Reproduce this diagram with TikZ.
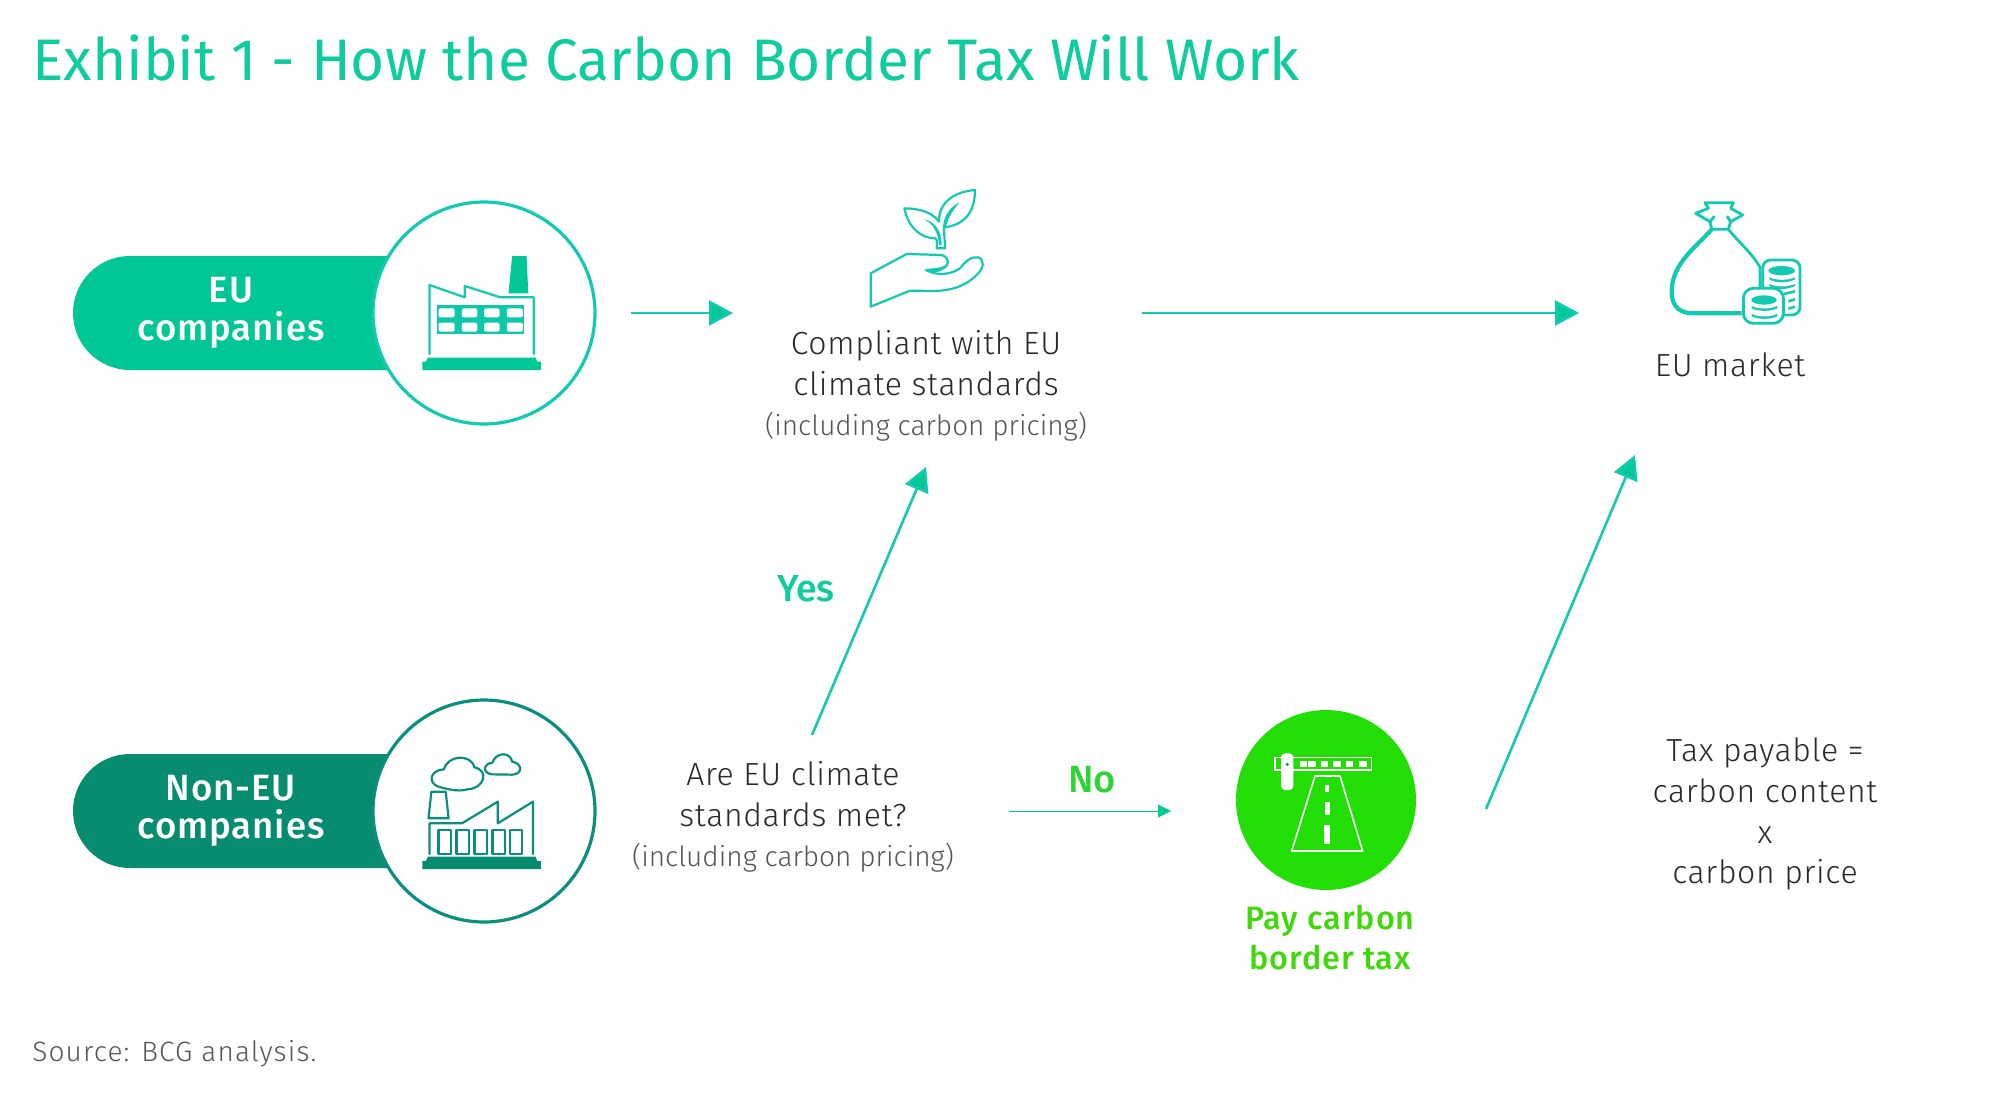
\documentclass[tikz,border=0pt]{standalone}
\usepackage{fontspec}
\setmainfont{Fira Sans Light}[BoldFont={Fira Sans Medium}]
\newfontfamily\titlefont{Fira Sans}
\usetikzlibrary{arrows.meta}
\definecolor{brandteal}{HTML}{0FCC9E}
\definecolor{pillgreen}{HTML}{00C795}
\definecolor{darkpill}{HTML}{078C6F}
\definecolor{ringcyan}{HTML}{12CAB2}
\definecolor{ringdark}{HTML}{0A8F7E}
\definecolor{arrowgreen}{HTML}{00C996}
\definecolor{brightgreen}{HTML}{22DD06}
\definecolor{labelgreen}{HTML}{3FD90A}
\definecolor{bodytext}{HTML}{2A2A2A}
\definecolor{softtext}{HTML}{555555}
\tikzset{
  x=0.5pt,y=-0.5pt,
  bodylabel/.style={align=center,text=bodytext,inner sep=0pt,font=\fontsize{16}{20.4}\selectfont\addfontfeatures{LetterSpace=2}},
  pilllabel/.style={align=center,text=white,inner sep=0pt,font=\fontsize{18.3}{18.8}\selectfont\bfseries\addfontfeatures{LetterSpace=2.5}},
  flowarrow/.style={draw=ringcyan,line width=1.3pt,-{Triangle[length=12pt,width=12.5pt,fill=arrowgreen]}},
  thinarrow/.style={draw=arrowgreen,line width=0.45pt,-{Triangle[length=6.5pt,width=6.5pt,fill=arrowgreen]}},
  ringnode/.style={circle,minimum size=111pt,inner sep=0pt,fill=white,line width=1.6pt},
  iconline/.style={line width=1.1pt,line join=round,line cap=round},
}
\newcommand{\sublabel}[1]{{\color{softtext}\fontsize{14}{20.4}\selectfont\addfontfeatures{LetterSpace=0} #1}}
\begin{document}
\begin{tikzpicture}
\useasboundingbox (0,0) rectangle (2000,1102);
\fill[white] (0,0) rectangle (2000,1102);
% title
\node[anchor=base west,inner sep=0pt,text=brandteal,font=\fontsize{29.3}{30}\selectfont\titlefont] (title) at (32,81) {Exhibit 1 - How the Carbon Border Tax Will Work};
% pills
\fill[pillgreen] (440,256) -- (130,256) arc[start angle=270,end angle=90,radius=57] -- (440,370) -- cycle;
\fill[darkpill] (440,754) -- (130,754) arc[start angle=270,end angle=90,radius=57] -- (440,868) -- cycle;
\node[pilllabel] (eulabel) at (231,313) {EU\\companies};
\node[pilllabel] (noneulabel) at (231,811) {Non-EU\\companies};
\node[ringnode,draw=ringcyan] (euring) at (484,313) {};
\node[ringnode,draw=ringdark] (nonring) at (484,811) {};
% EU factory
\begin{scope}[shift={(58,180)},x=0.1795pt,y=-0.16667pt]
  \fill[pillgreen] (1030,533) -- (1330,533) -- (1335,545) -- (1345,545) -- (1345,570) -- (1015,570) -- (1015,545) -- (1025,545) -- cycle;
  \fill[pillgreen] (1265,228) -- (1305,228) -- (1310,340) -- (1255,340) -- cycle;
  \draw[ringcyan,iconline] (1035,522) -- (1035,315) -- (1133,352) -- (1133,318) -- (1232,352) -- (1325,352) -- (1325,522);
  \fill[ringcyan!70!pillgreen] (1055,375) rectangle (1298,462);
  \foreach \xa/\xb in {1060/1105,1125/1168,1187/1230,1250/1295}{
    \foreach \ya/\yb in {385/412,428/455}{
      \fill[white,rounded corners=1pt] (\xa,\ya) rectangle (\xb,\yb);
    }
  }
\end{scope}
% non-EU factory
\begin{scope}[shift={(58,680)},x=0.1795pt,y=-0.16667pt]
  \fill[darkpill] (1030,530) -- (1330,530) -- (1335,543) -- (1345,543) -- (1345,567) -- (1015,567) -- (1015,543) -- (1025,543) -- cycle;
  \draw[ringdark,iconline] (1040,335) -- (1080,335) -- (1088,415) -- (1032,415) -- cycle;
  \draw[ringdark,iconline] (1035,522) -- (1035,430) -- (1125,430) -- (1225,365) -- (1225,430) -- (1323,365) -- (1323,522);
  \foreach \xa/\xb in {1060/1095,1110/1145,1160/1195,1210/1245,1258/1292}{
    \draw[ringdark,iconline] (\xa,450) rectangle (\xb,522);
  }
  \draw[ringdark,iconline] (1060,320) .. controls (1030,310) and (1035,270) .. (1075,268)
     .. controls (1085,225) and (1150,220) .. (1160,262)
     .. controls (1200,270) and (1190,325) .. (1140,328)
     .. controls (1120,335) and (1090,330) .. (1060,320) -- cycle;
  \draw[ringdark,iconline] (1210,283) .. controls (1180,280) and (1185,250) .. (1210,248)
     .. controls (1220,215) and (1260,215) .. (1265,245)
     .. controls (1295,250) and (1295,283) .. (1265,284) -- cycle;
\end{scope}
% hand and sprout
\begin{scope}[shift={(840,170)},x=0.16667pt,y=-0.16667pt]
  \draw[ringcyan,iconline] (92,310) -- (200,252) -- (305,255) .. controls (330,262) and (330,290) .. (305,296) -- (258,300)
     .. controls (290,318) and (330,315) .. (360,295) .. controls (375,275) and (395,258) .. (415,262)
     .. controls (435,270) and (432,295) .. (410,315) .. controls (380,345) and (340,362) .. (280,363) -- (210,362) -- (92,410) -- cycle;
  \fill[ringcyan] (258,300) .. controls (280,295) and (300,296) .. (318,285) .. controls (312,305) and (280,315) .. (258,300) -- cycle;
  \draw[ringcyan,iconline] (290,235) .. controls (292,215) and (290,205) .. (285,205) .. controls (245,205) and (205,175) .. (193,115)
     .. controls (235,115) and (275,125) .. (297,155) .. controls (295,100) and (340,65) .. (405,60)
     .. controls (405,125) and (375,165) .. (312,172) .. controls (312,195) and (315,215) .. (315,235) -- cycle;
  \fill[ringcyan] (252,148) .. controls (280,160) and (295,190) .. (297,225) -- (305,225) .. controls (305,190) and (290,155) .. (252,148) -- cycle;
  \fill[ringcyan] (358,97) .. controls (325,115) and (310,140) .. (308,180) -- (318,170) .. controls (325,140) and (340,120) .. (358,97) -- cycle;
\end{scope}
% money bag
\begin{scope}[shift={(1640,180)},x=0.16667pt,y=-0.16667pt]
  \draw[ringcyan,line width=1.4pt,line join=round,line cap=round] (195,68) -- (280,68) -- (272,85) -- (308,105) -- (272,125) -- (262,110) (195,68) -- (205,85) -- (167,100) -- (210,125) -- (222,110) (210,125) -- (215,148) -- (265,148) -- (272,125);
  \draw[ringcyan,line width=2.1pt,line join=round] (215,148) .. controls (170,200) and (95,250) .. (95,335) .. controls (95,385) and (125,400) .. (160,400) -- (305,400);
  \draw[ringcyan,line width=1.4pt] (265,148) .. controls (300,190) and (340,225) .. (360,262) -- (360,325);
  % back coins
  \draw[ringcyan,line width=1.4pt,rounded corners=4pt,fill=white] (368,240) rectangle (480,405);
  \fill[ringcyan] (425,272) ellipse[x radius=40,y radius=14];
  \fill[ringcyan] (388,292) .. controls (410,302) and (440,302) .. (465,292) -- (465,298) .. controls (440,310) and (410,310) .. (388,298) -- cycle;
  \fill[ringcyan] (388,312) .. controls (410,322) and (440,322) .. (465,312) -- (465,318) .. controls (440,330) and (410,330) .. (388,318) -- cycle;
  \fill[ringcyan] (432,338) -- (465,330) -- (465,338) -- (432,346) -- cycle;
  \fill[ringcyan] (445,360) -- (465,354) -- (465,362) -- (445,368) -- cycle;
  \fill[ringcyan] (445,382) -- (465,376) -- (465,384) -- (445,390) -- cycle;
  % front coins
  \draw[ringcyan,line width=1.4pt,rounded corners=5pt,fill=white] (310,325) rectangle (430,430);
  \fill[ringcyan] (372,360) ellipse[x radius=38,y radius=14];
  \fill[ringcyan] (335,378) .. controls (355,388) and (390,388) .. (412,378) -- (412,385) .. controls (390,395) and (355,395) .. (335,385) -- cycle;
  \fill[ringcyan] (335,402) .. controls (355,412) and (390,412) .. (412,402) -- (412,409) .. controls (390,419) and (355,419) .. (335,409) -- cycle;
\end{scope}
% toll circle
\node[circle,minimum size=180pt*0.5,inner sep=0pt,fill=brightgreen] (tollcircle) at (1326,800) {};
\begin{scope}[shift={(1200,690)},x=0.16667pt,y=-0.16667pt]
  \draw[white,line width=0.8pt] (225,203) rectangle (515,240);
  \foreach \bx in {300,325,362,400,438,478}{ \fill[white] (\bx,212) rectangle ++(22,18); }
  \fill[white,rounded corners=2pt] (243,190) rectangle (280,300);
  \fill[darkpill] (262,223) circle[radius=5];
  \draw[white,line width=0.8pt,line join=round] (345,258) -- (420,258) -- (488,483) -- (275,483) -- cycle;
  \fill[white] (376,285) rectangle (388,305);
  \fill[white] (374,335) rectangle (390,375);
  \fill[white] (373,405) rectangle (391,462);
\end{scope}
% texts
\node[bodylabel] (compliant) at (926,386) {Compliant with EU\\climate standards\\\sublabel{(including carbon pricing)}};
\node[bodylabel] (market) at (1730,365) {EU market};
\node[bodylabel] (question) at (793,817) {Are EU climate\\standards met?\\\sublabel{(including carbon pricing)}};
\node[bodylabel] (taxformula) at (1765,814) {Tax payable =\\carbon content\\x\\carbon price};
\node[inner sep=0pt,text=brandteal,font=\fontsize{18.8}{20}\selectfont\bfseries] (yes) at (806,589) {Yes};
\node[inner sep=0pt,text=labelgreen!70!arrowgreen,font=\fontsize{19}{20}\selectfont\bfseries] (no) at (1092,780) {No};
\node[align=center,inner sep=0pt,text=labelgreen,font=\fontsize{16.2}{20}\selectfont\bfseries\addfontfeatures{LetterSpace=3}] (paytax) at (1330,937) {Pay carbon\\border tax};
\node[anchor=base west,inner sep=0pt,text=softtext,font=\fontsize{14}{16}\selectfont\addfontfeatures{LetterSpace=4}] (source) at (32,1061) {Source: BCG analysis.};
% connectors
\coordinate (a1s) at (631,313); \coordinate (a1e) at (733,313);
\coordinate (a2s) at (1142,313); \coordinate (a2e) at (1579,313);
\coordinate (a3s) at (812,735); \coordinate (a3e) at (926,467);
\coordinate (a4s) at (1486,809); \coordinate (a4e) at (1635,455);
\coordinate (a5s) at (1009,811); \coordinate (a5e) at (1171,811);
\draw[flowarrow] (a1s) -- (a1e);
\draw[flowarrow] (a2s) -- (a2e);
\draw[flowarrow] (a3s) -- (a3e);
\draw[flowarrow] (a4s) -- (a4e);
\draw[thinarrow] (a5s) -- (a5e);
\end{tikzpicture}
\end{document}
